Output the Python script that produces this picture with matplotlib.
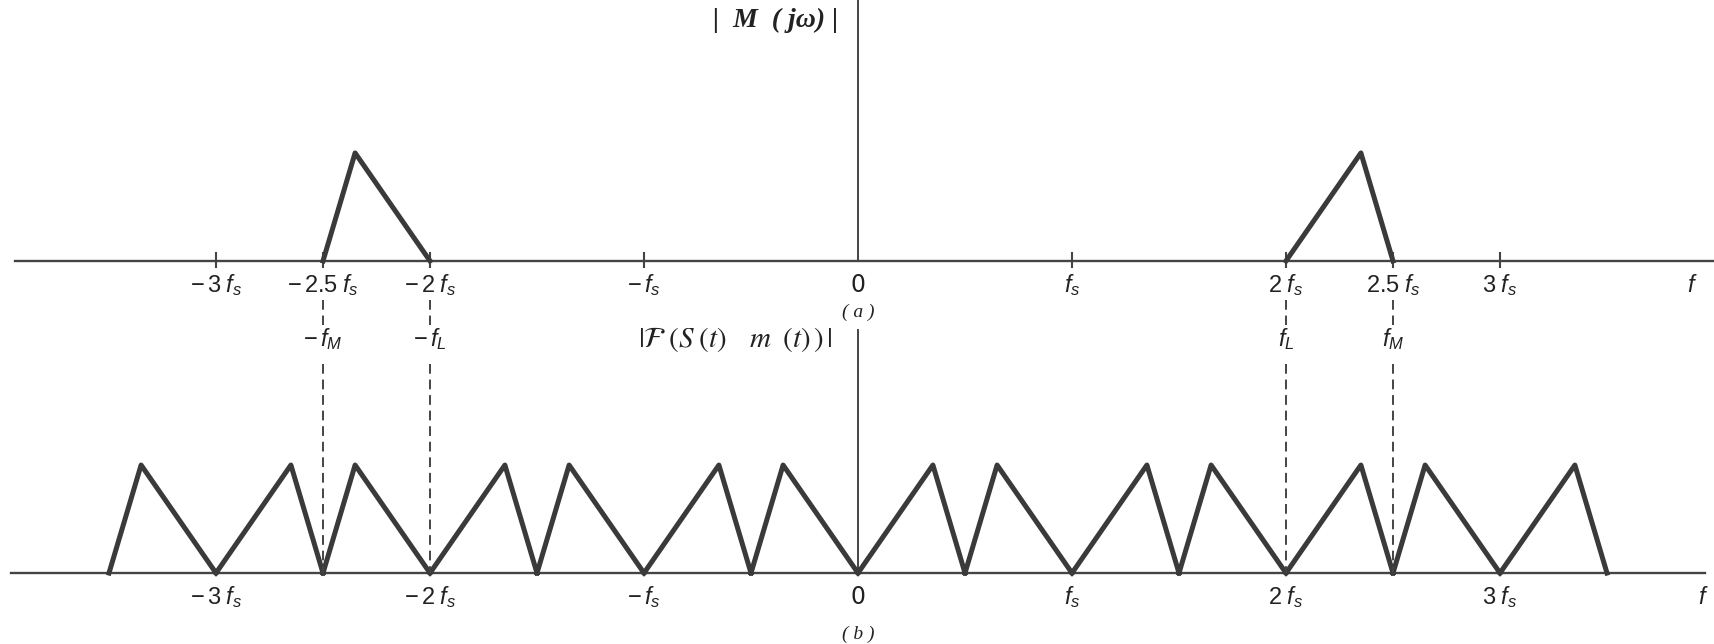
import matplotlib
matplotlib.use("Agg")
import matplotlib.pyplot as plt

plt.rcParams['mathtext.fontset'] = 'custom'
plt.rcParams['mathtext.rm'] = 'Liberation Sans'
plt.rcParams['mathtext.it'] = 'Liberation Sans:italic'
plt.rcParams['mathtext.bf'] = 'Liberation Sans:bold'

# |M(jw)|: bandpass message spectrum, frequency in units of fs
m_neg_freq = [-2.5, -2.35, -2.0]
m_pos_freq = [2.0, 2.35, 2.5]
m_mag = [0, 1, 0]

# |F(S(t) m(t))|: shifted copies, one (start, peak, end) per triangle
s_start = [-3.5, -3.0, -2.5, -2.0, -1.5, -1.0, -0.5, 0.0, 0.5, 1.0, 1.5, 2.0, 2.5, 3.0]
s_peak = [-3.35, -2.65, -2.35, -1.65, -1.35, -0.65, -0.35, 0.35, 0.65, 1.35, 1.65, 2.35, 2.65, 3.35]
s_end = [-3.0, -2.5, -2.0, -1.5, -1.0, -0.5, 0.0, 0.5, 1.0, 1.5, 2.0, 2.5, 3.0, 3.5]
s_mag = 1.0

ticks_a = [-3, -2.5, -2, -1, 0, 1, 2, 2.5, 3]
labels_a = [r"$-\,3\;f_s$", r"$-\,2.5\;f_s$", r"$-\,2\;f_s$", r"$-\,f_s$", "0",
            r"$f_s$", r"$2\;f_s$", r"$2.5\;f_s$", r"$3\;f_s$"]
ticks_b = [-3, -2, -1, 0, 1, 2, 3]
labels_b = [r"$-\,3\;f_s$", r"$-\,2\;f_s$", r"$-\,f_s$", "0", r"$f_s$", r"$2\;f_s$", r"$3\;f_s$"]

band_marks = [-2.5, -2.0, 2.0, 2.5]
band_labels = [r"$-\,f_M$", r"$-\,f_L$", r"$f_L$", r"$f_M$"]

base_a = 2.89   # baseline of panel (a)
base_b = 0.0    # baseline of panel (b)

line_c = "#3a3a3a"
axis_c = "#444444"
text_c = "#222222"
fs_txt = 17

fig = plt.figure(figsize=(17.14, 6.44), dpi=100)
ax = fig.add_axes([0, 0, 1, 1])
ax.set_xlim(-858 / 214, (1714 - 858) / 214)
ax.set_ylim(-0.657, 5.306)
ax.axis("off")

# panel (a)
ax.plot([-3.94, 4.05], [base_a, base_a], color=axis_c, lw=1.7)
ax.plot([0, 0], [base_a, base_a + 2.45], color=axis_c, lw=1.4)
for t in ticks_a:
    if t != 0:
        ax.plot([t, t], [base_a - 0.06, base_a + 0.07], color=axis_c, lw=1.5)
ax.plot(m_neg_freq, [base_a + v for v in m_mag], color=line_c, lw=3.6)
ax.plot(m_pos_freq, [base_a + v for v in m_mag], color=line_c, lw=3.6)
for t, lab in zip(ticks_a, labels_a):
    ax.text(t, base_a - 0.29, lab, ha="center", va="baseline", fontsize=fs_txt, color=text_c)
ax.text(3.9, base_a - 0.29, r"$f$", ha="center", va="baseline", fontsize=fs_txt, color=text_c)
ax.text(0, base_a - 0.48, "( a )", ha="center", va="center", fontsize=14,
        style="italic", family="Liberation Serif", color=text_c)
ax.text(-0.09, base_a + 2.23, "|  M  ( jω) |", ha="right", va="center", fontsize=20,
        family="Liberation Serif", weight="bold", style="italic", color=text_c)

# panel (b)
ax.plot([-3.96, 3.96], [base_b, base_b], color=axis_c, lw=1.7)
ax.plot([0, 0], [base_b, base_b + 2.25], color=axis_c, lw=1.4)
for a, p, e in zip(s_start, s_peak, s_end):
    ax.plot([a, p, e], [base_b, base_b + s_mag, base_b], color=line_c, lw=3.6)
for t, lab in zip(ticks_b, labels_b):
    ax.text(t, base_b - 0.29, lab, ha="center", va="baseline", fontsize=fs_txt, color=text_c)
ax.text(3.95, base_b - 0.29, r"$f$", ha="center", va="baseline", fontsize=fs_txt, color=text_c)
ax.text(0, base_b - 0.57, "( b )", ha="center", va="center", fontsize=14,
        style="italic", family="Liberation Serif", color=text_c)
ax.text(-0.12, base_b + 2.16, r"$|\mathcal{F}\;(S\;(t)\;\;\;\;m\;\;(t)\,)\,|$", ha="right", va="center",
        fontsize=21, math_fontfamily="stix", color=text_c)

# dashed guides from the band edges in (a) down to (b)
for x, lab in zip(band_marks, band_labels):
    ax.plot([x, x], [base_b + 2.53, base_b + 2.30], color=axis_c, lw=1.4, ls=(0, (5, 3)))
    ax.plot([x, x], [base_b + 1.94, base_b], color=axis_c, lw=1.4, ls=(0, (5, 3)))
    ax.text(x, base_b + 2.10, lab, ha="center", va="baseline", fontsize=fs_txt, color=text_c)

fig.savefig("out.png", dpi=100, facecolor="white")
